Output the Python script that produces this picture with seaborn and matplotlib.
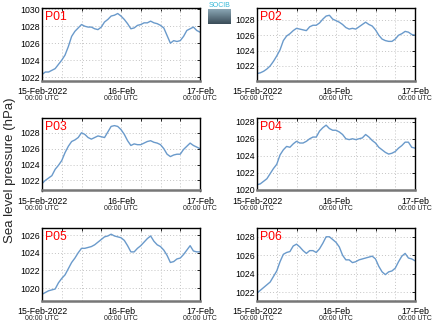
import numpy as np
import pandas as pd
import matplotlib
matplotlib.use("Agg")
import matplotlib.pyplot as plt
import matplotlib.dates as mdates
import seaborn as sns

# Hourly sea level pressure (hPa), 15 Feb 2022 00:00 UTC to 17 Feb 2022 00:00 UTC
times = pd.date_range("2022-02-15 00:00", "2022-02-17 00:00", freq="h")

p01 = [1022.3, 1022.6, 1022.6, 1022.8, 1023.0, 1023.5, 1024.0, 1024.6, 1025.6, 1026.8,
       1027.4, 1027.8, 1028.2, 1028.0, 1027.9, 1027.9, 1027.7, 1027.6, 1027.9, 1028.5,
       1028.8, 1029.2, 1029.3, 1029.5, 1029.2, 1028.8, 1028.3, 1027.7, 1027.8, 1028.1,
       1028.2, 1028.4, 1028.4, 1028.6, 1028.4, 1028.3, 1028.1, 1027.8, 1026.9, 1026.0,
       1026.3, 1026.2, 1026.3, 1026.8, 1027.5, 1027.7, 1027.9, 1027.5, 1027.3]
p02 = [1021.0, 1021.1, 1021.3, 1021.6, 1022.0, 1022.6, 1023.3, 1024.1, 1025.3, 1025.9,
       1026.2, 1026.6, 1026.9, 1026.8, 1026.7, 1026.6, 1027.1, 1027.3, 1027.3, 1027.6,
       1028.1, 1028.5, 1028.6, 1028.1, 1027.9, 1027.7, 1027.4, 1027.0, 1026.8, 1026.9,
       1026.8, 1027.1, 1027.4, 1027.7, 1027.4, 1027.2, 1026.7, 1026.0, 1025.5, 1025.3,
       1025.2, 1025.2, 1025.5, 1026.0, 1026.2, 1026.5, 1026.4, 1026.1, 1026.0]
p03 = [1021.6, 1022.0, 1022.3, 1022.6, 1023.4, 1023.9, 1024.5, 1025.5, 1026.3, 1026.9,
       1027.1, 1027.4, 1028.0, 1027.8, 1027.4, 1027.2, 1027.4, 1027.6, 1027.5, 1027.4,
       1028.1, 1028.8, 1028.9, 1028.8, 1028.4, 1027.8, 1027.0, 1026.4, 1026.6, 1026.5,
       1026.5, 1026.7, 1026.9, 1027.0, 1026.8, 1026.7, 1026.5, 1026.0, 1025.3, 1025.0,
       1025.2, 1025.3, 1025.3, 1025.9, 1026.3, 1026.7, 1026.4, 1026.2, 1026.0]
p04 = [1020.6, 1020.7, 1021.0, 1021.3, 1021.9, 1022.5, 1023.0, 1024.1, 1024.7, 1025.1,
       1025.0, 1025.4, 1025.7, 1025.5, 1025.5, 1025.7, 1026.0, 1026.2, 1026.2, 1026.9,
       1027.3, 1027.6, 1027.2, 1027.0, 1027.0, 1026.8, 1026.5, 1026.0, 1025.9, 1026.0,
       1025.9, 1026.0, 1026.1, 1026.5, 1026.2, 1025.8, 1025.5, 1025.0, 1024.7, 1024.4,
       1024.2, 1024.3, 1024.5, 1024.9, 1025.2, 1025.6, 1025.6, 1025.0, 1024.9]
p05 = [1019.3, 1019.5, 1019.7, 1019.8, 1019.9, 1020.6, 1021.1, 1021.5, 1022.2, 1022.9,
       1023.4, 1024.0, 1024.5, 1024.5, 1024.6, 1024.7, 1024.9, 1025.2, 1025.5, 1025.8,
       1025.9, 1026.1, 1025.9, 1025.8, 1025.7, 1025.4, 1024.8, 1024.1, 1024.1, 1024.5,
       1024.8, 1025.2, 1025.6, 1025.9, 1025.3, 1024.9, 1024.7, 1024.3, 1023.7, 1022.9,
       1023.0, 1023.3, 1023.4, 1023.8, 1024.3, 1024.8, 1024.2, 1024.1, 1024.1]
p06 = [1021.9, 1022.2, 1022.5, 1022.8, 1023.1, 1023.7, 1024.3, 1025.3, 1026.1, 1026.3,
       1026.4, 1027.0, 1027.2, 1026.9, 1026.5, 1026.2, 1026.5, 1026.5, 1026.3, 1026.7,
       1027.3, 1028.0, 1028.0, 1027.7, 1027.4, 1026.9, 1026.0, 1025.5, 1025.5, 1025.2,
       1025.3, 1025.5, 1025.6, 1025.7, 1025.8, 1025.9, 1025.6, 1024.8, 1024.2, 1023.9,
       1024.2, 1024.3, 1024.6, 1025.3, 1025.9, 1026.2, 1025.7, 1025.6, 1025.4]

stations = ["P01", "P02", "P03", "P04", "P05", "P06"]
series = [p01, p02, p03, p04, p05, p06]

date_labels = ["15-Feb-2022", "16-Feb", "17-Feb"]
time_label = "00:00 UTC"
y_title = "Sea level pressure (hPa)"

# axes layout and value ranges per panel
y_ranges = [(1021.6, 1030.15), (1020.1, 1029.55), (1020.73, 1029.86),
            (1019.92, 1028.44), (1018.6, 1026.8), (1021.1, 1028.95)]

sns.set_theme(style="white")
plt.rcParams["font.family"] = ["Liberation Sans", "DejaVu Sans"]

W, H = 434, 327
fig = plt.figure(figsize=(W / 100, H / 100), dpi=100)

col_left = [42, 257]
col_width = 158
row_top = [8, 118, 228]
row_height = 72.5

line_color = "#6a9acb"
grid_kw = dict(color="#c4c4c4", linestyle=(0, (1, 2.2)), linewidth=0.7)

major_ticks = pd.to_datetime(["2022-02-15", "2022-02-16", "2022-02-17"])

for i, (name, vals) in enumerate(zip(stations, series)):
    r, c = divmod(i, 2)
    left = col_left[c] / W
    bottom = 1 - (row_top[r] + row_height) / H
    ax = fig.add_axes([left, bottom, col_width / W, row_height / H])

    df = pd.DataFrame({"time": times, "slp": vals})
    sns.lineplot(data=df, x="time", y="slp", ax=ax, color=line_color, linewidth=1.0)

    ax.set_xlim(times[0], times[-1])
    ax.set_ylim(*y_ranges[i])
    ax.set_xlabel("")
    ax.set_ylabel("")

    ax.xaxis.set_minor_locator(mdates.HourLocator(byhour=[6, 12, 18]))
    ax.set_xticks(major_ticks)
    ax.set_xticklabels(date_labels)
    ax.yaxis.set_major_locator(matplotlib.ticker.MultipleLocator(2))
    ax.yaxis.set_major_formatter(matplotlib.ticker.FormatStrFormatter("%d"))

    ax.grid(True, which="both", axis="x", **grid_kw)
    ax.grid(True, which="major", axis="y", **grid_kw)

    ax.tick_params(axis="both", which="both", direction="in", length=2,
                   width=0.6, colors="black", labelsize=6.3, pad=2,
                   top=True, right=True)
    ax.tick_params(axis="x", which="major", pad=4.5, labelsize=6.3)
    ax.tick_params(axis="y", which="major", pad=1.5)

    for side in ["left", "top", "right"]:
        ax.spines[side].set_color("black")
        ax.spines[side].set_linewidth(1.0)
    ax.spines["bottom"].set_color("#777777")
    ax.spines["bottom"].set_linewidth(1.8)

    for t in major_ticks:
        ax.annotate(time_label, xy=(mdates.date2num(t), 0),
                    xycoords=("data", "axes fraction"),
                    xytext=(0, -13.2), textcoords="offset points",
                    ha="center", va="center", fontsize=5.0, color="#222222")

    ax.text(0.02, 0.96, name, transform=ax.transAxes, ha="left", va="top",
            fontsize=8.8, color="red")

fig.text(10 / W, 1 - 170 / H, y_title, rotation=90, ha="center", va="center",
         fontsize=9.5)

# SOCIB logo: gradient badge with name on top
logo_ax = fig.add_axes([208 / W, 1 - 24 / H, 23 / W, 15 / H])
grad = np.linspace(0, 1, 64).reshape(-1, 1)
cmap = matplotlib.colors.LinearSegmentedColormap.from_list(
    "badge", ["#8aa6b4", "#3a4c58"])
logo_ax.imshow(grad, aspect="auto", cmap=cmap, extent=(0, 1, 0, 1), origin="upper")
logo_ax.set_axis_off()
fig.text(219.5 / W, 1 - 5.5 / H, "SOCIB", ha="center", va="center",
         fontsize=5, color="#35b8d8")

fig.savefig("out.png", dpi=100)
